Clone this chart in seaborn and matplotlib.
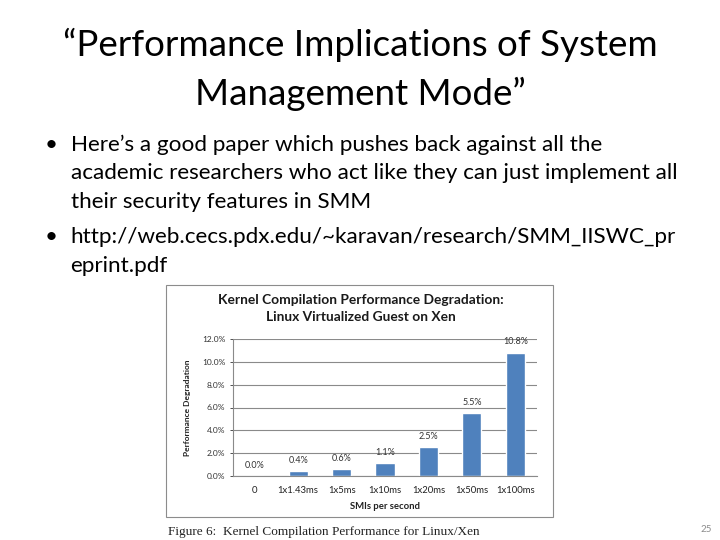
import matplotlib
matplotlib.use("Agg")
import matplotlib.pyplot as plt
import seaborn as sns
import pandas as pd
from matplotlib.patches import Rectangle
from matplotlib.ticker import FuncFormatter

# data
smi_rates = ['0', '1x1.43ms', '1x5ms', '1x10ms', '1x20ms', '1x50ms', '1x100ms']
degradation = [0.0, 0.4, 0.6, 1.1, 2.5, 5.5, 10.8]
value_labels = ['0.0%', '0.4%', '0.6%', '1.1%', '2.5%', '5.5%', '10.8%']

df = pd.DataFrame({'SMIs per second': smi_rates, 'Performance Degradation': degradation})

sns.set_theme(style='white')
plt.rcParams['font.family'] = ['Lato', 'DejaVu Sans']

fig = plt.figure(figsize=(7.2, 5.4), dpi=100)
fig.patch.set_facecolor('white')

# slide title + bullets
fig.text(0.5, 0.917, '\u201cPerformance Implications of System', ha='center', va='center',
         fontsize=26.5, color='black')
fig.text(0.5, 0.826, 'Management Mode\u201d', ha='center', va='center', fontsize=26.5, color='black')

bullets = [
    (0.731, '\u2022', 'Here\u2019s a good paper which pushes back against all the'),
    (0.679, '', 'academic researchers who act like they can just implement all'),
    (0.626, '', 'their security features in SMM'),
    (0.561, '\u2022', 'http://web.cecs.pdx.edu/~karavan/research/SMM_IISWC_pr'),
    (0.507, '', 'eprint.pdf'),
]
for y, b, line in bullets:
    if b:
        fig.text(0.062, y, b, ha='left', va='center', fontsize=16, color='black')
    fig.text(0.098, y, line, ha='left', va='center', fontsize=16.2, color='black')

# embedded figure frame
fig.patches.append(Rectangle((166 / 720, 1 - 517 / 540), 387 / 720, 232 / 540,
                             transform=fig.transFigure, fill=False,
                             edgecolor='#8c8c8c', linewidth=0.8))
fig.text(361 / 720, 1 - 300 / 540, 'Kernel Compilation Performance Degradation:',
         ha='center', va='center', fontsize=9.9, fontweight='bold', color='#1a1a1a')
fig.text(361 / 720, 1 - 317 / 540, 'Linux Virtualized Guest on Xen',
         ha='center', va='center', fontsize=9.9, fontweight='bold', color='#1a1a1a')

ax = fig.add_axes([233 / 720, 1 - 476 / 540, 304 / 720, 137 / 540])
sns.barplot(data=df, x='SMIs per second', y='Performance Degradation',
            color='#4f81bd', saturation=1, width=0.44, ax=ax)
ax.set_ylim(0, 12)
ax.set_yticks([0, 2, 4, 6, 8, 10, 12])
ax.yaxis.set_major_formatter(FuncFormatter(lambda v, p: f'{v:.1f}%'))
ax.grid(axis='y', color='#8a8a8a', linewidth=0.8)
ax.set_axisbelow(True)
for side in ['top', 'right']:
    ax.spines[side].set_visible(False)
for side in ['left', 'bottom']:
    ax.spines[side].set_color('#8a8a8a')
    ax.spines[side].set_linewidth(0.8)
ax.tick_params(axis='y', labelsize=6, colors='#333333', length=2, width=0.6, left=True)
ax.tick_params(axis='x', labelsize=6.8, colors='#222222', length=0, pad=7)
ax.set_xlabel('SMIs per second', fontsize=6.8, fontweight='bold', color='#222222', labelpad=5)
ax.set_ylabel('Performance Degradation', fontsize=6, fontweight='bold', color='#222222', labelpad=8)

for i, (v, lab) in enumerate(zip(degradation, value_labels)):
    ax.text(i, v + 0.55, lab, ha='center', va='bottom', fontsize=6.5, color='#333333')

fig.text(168 / 720, 1 - 532 / 540, 'Figure 6:  Kernel Compilation Performance for Linux/Xen',
         ha='left', va='center', fontsize=9.5, family='Liberation Serif', color='#222222')
fig.text(706 / 720, 1 - 530 / 540, '25', ha='center', va='center', fontsize=7, color='#8c8c8c')

fig.savefig('out.png', dpi=100)
